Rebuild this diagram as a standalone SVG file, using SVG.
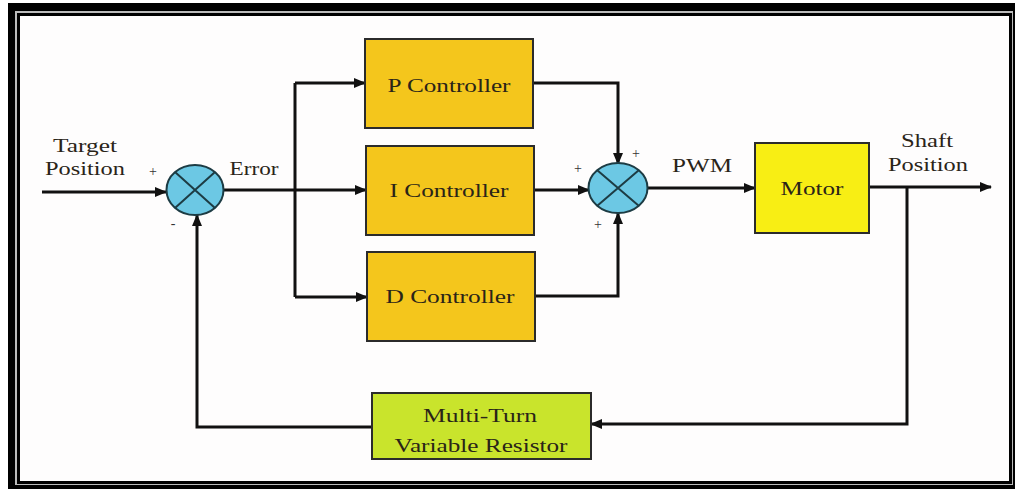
<svg xmlns="http://www.w3.org/2000/svg" width="1015" height="494" viewBox="0 0 1015 494">
<style>
.t{font-family:"Liberation Serif","Times New Roman",serif;font-size:18px;fill:#2a2418}
.s{font-family:"Liberation Serif","Times New Roman",serif;font-size:14px;fill:#333}
.box{stroke:#2b2b2b;stroke-width:2}
.ctl{fill:#F4C61C}
.sum{fill:#6CC8E4;stroke:#1d3c44;stroke-width:2}
.x{stroke:#1d3c44;stroke-width:2}
.c{fill:none;stroke:#111;stroke-width:3}
</style>
<defs>
<marker id="ah" markerUnits="userSpaceOnUse" markerWidth="12" markerHeight="10" refX="11" refY="5" orient="auto">
<path d="M0,0 L12,5 L0,10 Z" fill="#111"/>
</marker>
</defs>
<rect x="0" y="0" width="1015" height="494" fill="#fff"/>
<g id="frame">
<rect x="8" y="3" width="1007" height="486" fill="#000"/>
<rect x="15" y="11" width="998" height="474" fill="#bbb"/>
<rect x="17" y="13" width="995" height="471" fill="#000"/>
<rect x="20" y="16" width="989" height="465" fill="#fefdfd"/>
</g>
<g id="connectors">
<path class="c" d="M42,192 H166" marker-end="url(#ah)"/>
<path class="c" d="M223,190 H295"/>
<path class="c" d="M295,83 V297"/>
<path class="c" d="M295,83 H365" marker-end="url(#ah)"/>
<path class="c" d="M295,190 H366" marker-end="url(#ah)"/>
<path class="c" d="M295,297 H367" marker-end="url(#ah)"/>
<path class="c" d="M533,83 H618 V164" marker-end="url(#ah)"/>
<path class="c" d="M534,190 H589" marker-end="url(#ah)"/>
<path class="c" d="M535,296 H618 V213" marker-end="url(#ah)"/>
<path class="c" d="M647,188 H755" marker-end="url(#ah)"/>
<path class="c" d="M869,187 H991" marker-end="url(#ah)"/>
<path class="c" d="M907,187 V424 H591" marker-end="url(#ah)"/>
<path class="c" d="M372,427 H197 V215" marker-end="url(#ah)"/>
</g>
<g id="sum1">
<ellipse class="sum" cx="195" cy="190" rx="28.5" ry="25"/>
<path class="x" d="M175,172 L215,208 M215,172 L175,208"/>
</g>
<g id="sum2">
<ellipse class="sum" cx="618" cy="188" rx="29.5" ry="25"/>
<path class="x" d="M597,170 L639,206 M639,170 L597,206"/>
</g>
<g id="p">
<rect class="box ctl" x="365" y="39" width="168" height="89"/>
<text class="t" x="449" y="92" text-anchor="middle" textLength="123" lengthAdjust="spacingAndGlyphs">P Controller</text>
</g>
<g id="i">
<rect class="box ctl" x="366" y="146" width="168" height="89"/>
<text class="t" x="449" y="197" text-anchor="middle" textLength="119" lengthAdjust="spacingAndGlyphs">I Controller</text>
</g>
<g id="d">
<rect class="box ctl" x="367" y="252" width="168" height="89"/>
<text class="t" x="450" y="303" text-anchor="middle" textLength="129" lengthAdjust="spacingAndGlyphs">D Controller</text>
</g>
<g id="motor">
<rect class="box" x="755" y="143" width="114" height="90" fill="#F8EE14"/>
<text class="t" x="812" y="195" text-anchor="middle" textLength="63" lengthAdjust="spacingAndGlyphs">Motor</text>
</g>
<g id="resistor">
<rect class="box" x="372" y="393" width="219" height="66" fill="#C9E42C"/>
<text class="t" x="480" y="422" text-anchor="middle" textLength="114" lengthAdjust="spacingAndGlyphs">Multi-Turn</text>
<text class="t" x="481" y="452" text-anchor="middle" textLength="173" lengthAdjust="spacingAndGlyphs">Variable Resistor</text>
</g>
<g id="labels">
<text class="t" x="85" y="152" text-anchor="middle" textLength="64" lengthAdjust="spacingAndGlyphs">Target</text>
<text class="t" x="85" y="175" text-anchor="middle" textLength="80" lengthAdjust="spacingAndGlyphs">Position</text>
<text class="t" x="254" y="175" text-anchor="middle" textLength="49" lengthAdjust="spacingAndGlyphs">Error</text>
<text class="t" x="702" y="172" text-anchor="middle" textLength="60" lengthAdjust="spacingAndGlyphs">PWM</text>
<text class="t" x="927" y="147" text-anchor="middle" textLength="52" lengthAdjust="spacingAndGlyphs">Shaft</text>
<text class="t" x="928" y="171" text-anchor="middle" textLength="80" lengthAdjust="spacingAndGlyphs">Position</text>
<text class="s" x="153" y="176" text-anchor="middle">+</text>
<text class="s" x="173" y="228" text-anchor="middle">-</text>
<text class="s" x="636" y="158" text-anchor="middle">+</text>
<text class="s" x="578" y="173" text-anchor="middle">+</text>
<text class="s" x="598" y="229" text-anchor="middle">+</text>
</g>
</svg>
